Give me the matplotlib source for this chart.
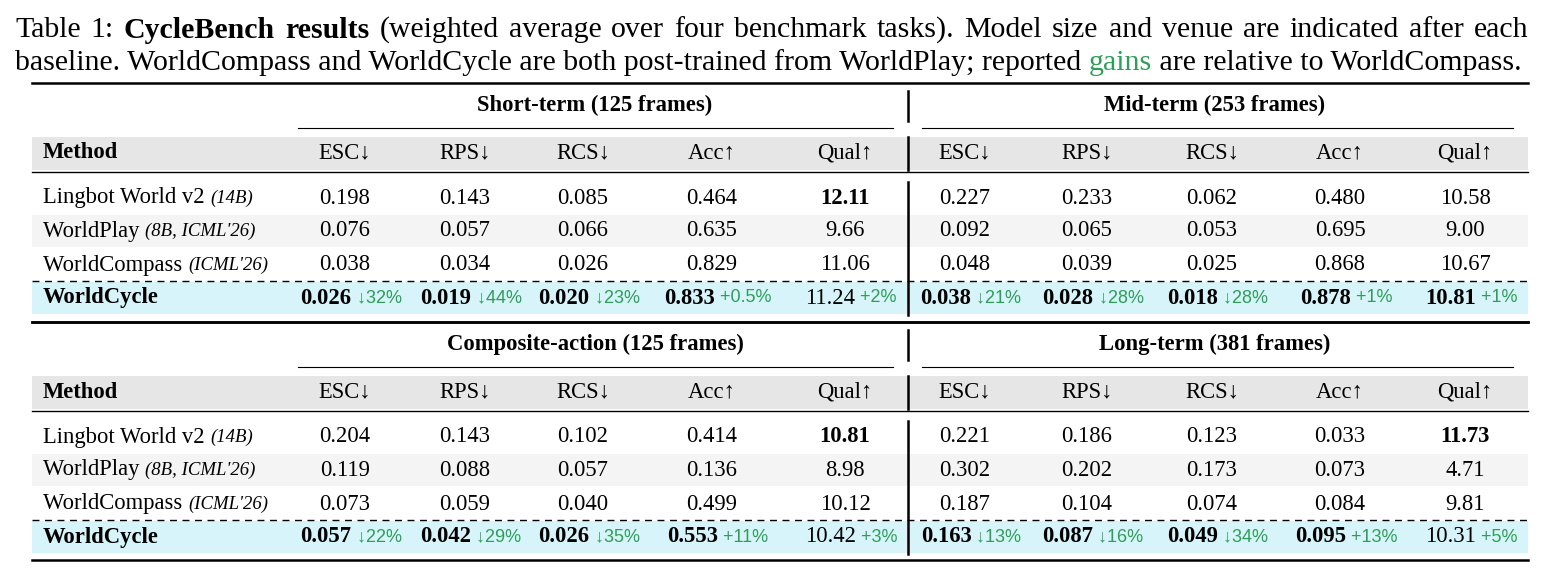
import matplotlib
matplotlib.use("Agg")
import matplotlib.pyplot as plt

W, H = 1547, 580
SERIF = ['Liberation Serif', 'DejaVu Serif']
SANS = ['Liberation Sans', 'DejaVu Sans']
GREEN = '#2e9e57'

metrics = ["ESC↓", "RPS↓", "RCS↓", "Acc↑", "Qual↑"]
methods = ["Lingbot World v2", "WorldPlay", "WorldCompass", "WorldCycle"]
method_notes = ["(14B)", "(8B, ICML'26)", "(ICML'26)", ""]
groups_top = ["Short-term (125 frames)", "Mid-term (253 frames)"]
groups_bot = ["Composite-action (125 frames)", "Long-term (381 frames)"]

short_vals = [[0.198, 0.143, 0.085, 0.464, 12.11], [0.076, 0.057, 0.066, 0.635, 9.66],
              [0.038, 0.034, 0.026, 0.829, 11.06], [0.026, 0.019, 0.020, 0.833, 11.24]]
mid_vals = [[0.227, 0.233, 0.062, 0.480, 10.58], [0.092, 0.065, 0.053, 0.695, 9.00],
            [0.048, 0.039, 0.025, 0.868, 10.67], [0.038, 0.028, 0.018, 0.878, 10.81]]
comp_vals = [[0.204, 0.143, 0.102, 0.414, 10.81], [0.119, 0.088, 0.057, 0.136, 8.98],
             [0.073, 0.059, 0.040, 0.499, 10.12], [0.057, 0.042, 0.026, 0.553, 10.42]]
long_vals = [[0.221, 0.186, 0.123, 0.033, 11.73], [0.302, 0.202, 0.173, 0.073, 4.71],
             [0.187, 0.104, 0.074, 0.084, 9.81], [0.163, 0.087, 0.049, 0.095, 10.31]]
short_gain = ["↓32%", "↓44%", "↓23%", "+0.5%", "+2%"]
mid_gain = ["↓21%", "↓28%", "↓28%", "+1%", "+1%"]
comp_gain = ["↓22%", "↓29%", "↓35%", "+11%", "+3%"]
long_gain = ["↓13%", "↓16%", "↓34%", "+13%", "+5%"]

fig = plt.figure(figsize=(W/100, H/100), dpi=100)
ax = fig.add_axes([0, 0, 1, 1])
ax.set_xlim(0, W); ax.set_ylim(H, 0); ax.axis('off')
fig.canvas.draw()
R = fig.canvas.get_renderer()

def width(s, **kw):
    t = ax.text(0, 0, s, **kw)
    w = t.get_window_extent(R).width
    t.remove()
    return w

def seq(x, y, pieces, ha='left', gap=0.0):
    ws = [width(s, **kw) for s, kw in pieces]
    tot = sum(ws) + gap*(len(pieces)-1)
    if ha == 'center': x -= tot/2
    for (s, kw), w in zip(pieces, ws):
        ax.text(x, y, s, va='center', ha='left', **kw)
        x += w + gap

def fmt(v, j):
    return f"{v:.2f}" if j == 4 else f"{v:.3f}"

FS = 16.3
N = dict(family=SERIF, fontsize=FS)
B = dict(family=SERIF, fontsize=FS, fontweight='bold')
IT = dict(family=SERIF, fontsize=13.5, style='italic')
G = dict(family=SANS, fontsize=13, color=GREEN)

# caption
CF = 21.5
C = dict(family=SERIF, fontsize=CF)
CB = dict(family=SERIF, fontsize=CF, fontweight='bold')
words1 = [("Table", C), ("1:", C), ("CycleBench", CB), ("results", CB)] + \
    [(w, C) for w in "(weighted average over four benchmark tasks). Model size and venue are indicated after each".split()]
wsum = sum(width(s, **kw) for s, kw in words1)
gap = (1528 - 15 - wsum) / (len(words1) - 1)
seq(15, 30, words1, gap=gap)
seq(15, 63, [("baseline. WorldCompass and WorldCycle are both post-trained from WorldPlay; reported ", C),
             ("gains", dict(family=SERIF, fontsize=CF, color=GREEN)),
             (" are relative to WorldCompass.", C)])

L, Rx = 32, 1528
colsL = [345, 465, 583, 712, 845]
colsR = [965, 1087, 1212, 1340, 1465]
VX = 908

def block(y0, groups, valsL, gainL, valsR, gainR, boldL, boldR):
    ax.plot([L, Rx], [y0, y0], color='black', lw=1.8)
    ax.text(595, y0+22, groups[0], ha='center', va='center', **B)
    ax.text(1215, y0+22, groups[1], ha='center', va='center', **B)
    ax.plot([298, 893], [y0+45, y0+45], color='black', lw=0.8)
    ax.plot([922, 1513], [y0+45, y0+45], color='black', lw=0.8)
    ax.add_patch(plt.Rectangle((L, y0+54), Rx-L, 33, color='#e6e6e6', lw=0))
    ax.text(43, y0+70, "Method", va='center', **B)
    for j, m in enumerate(metrics):
        ax.text(colsL[j], y0+70, m, ha='center', va='center', **N)
        ax.text(colsR[j], y0+70, m, ha='center', va='center', **N)
    ax.plot([L, Rx], [y0+89, y0+89], color='black', lw=1.0)
    ax.plot([VX, VX], [y0+8, y0+38], color='black', lw=1.8)
    ax.plot([VX, VX], [y0+54, y0+87], color='black', lw=1.8)
    ax.plot([VX, VX], [y0+99, y0+232], color='black', lw=1.8)
    rows = [y0+115, y0+148, y0+182, y0+215]
    ax.add_patch(plt.Rectangle((L, rows[1]-16), Rx-L, 32, color='#f4f4f4', lw=0))
    ax.add_patch(plt.Rectangle((L, rows[3]-16), Rx-L, 32, color='#d7f4fb', lw=0))
    ax.plot([L, Rx], [rows[3]-17, rows[3]-17], color='black', lw=1.0, ls=(0, (5, 4)))
    for i, mth in enumerate(methods):
        y = rows[i]
        if i == 3:
            ax.text(43, y, mth, va='center', **B)
        else:
            seq(43, y, [(mth + " ", N), (method_notes[i], IT)])
        for cols, vals, gains, bold in ((colsL, valsL, gainL, boldL), (colsR, valsR, gainR, boldR)):
            for j in range(5):
                s = fmt(vals[i][j], j)
                isb = (i == 3 and j not in bold) or (i == 0 and j == 4 and 4 in bold)
                if i == 3:
                    seq(cols[j] + 6, y, [(s, B if isb else N), (" " + gains[j], G)], ha='center')
                else:
                    ax.text(cols[j], y, s, ha='center', va='center', **(B if isb else N))

block(83, groups_top, short_vals, short_gain, mid_vals, mid_gain, {4}, set())
ax.plot([L, Rx], [322, 322], color='black', lw=1.8)
block(322, groups_bot, comp_vals, comp_gain, long_vals, long_gain, {4}, {4})
ax.plot([L, Rx], [560, 560], color='black', lw=1.8)

fig.savefig("out.png", dpi=100)
